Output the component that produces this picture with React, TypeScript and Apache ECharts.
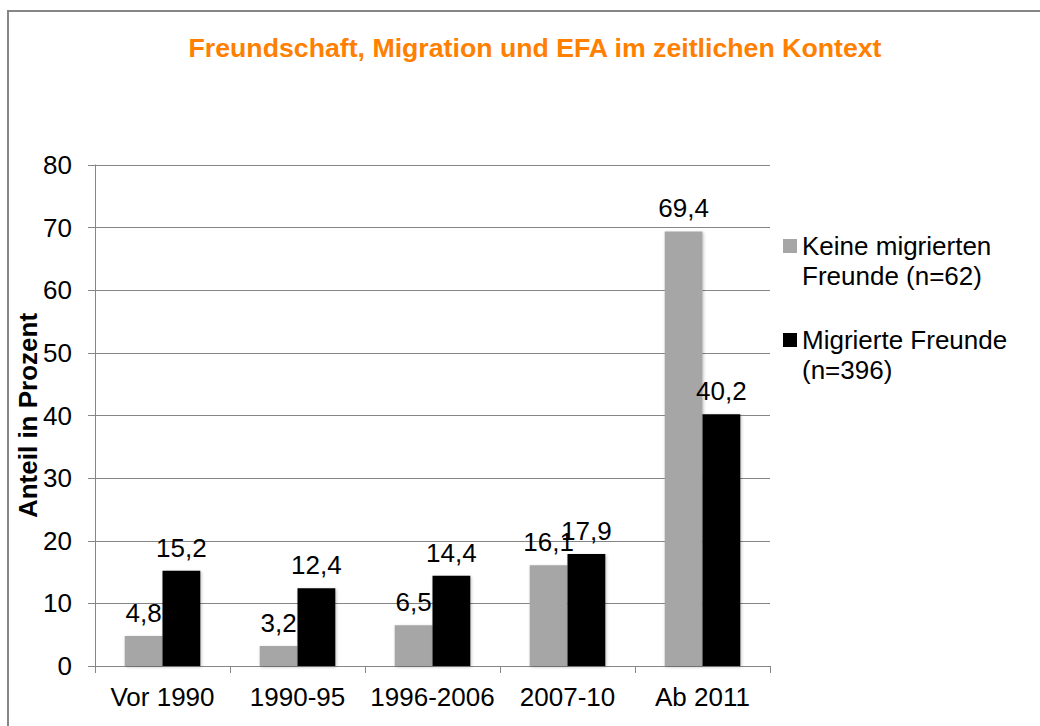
import React, { useEffect, useRef } from "react";
import * as echarts from "echarts";

const categories = ["Vor 1990", "1990-95", "1996-2006", "2007-10", "Ab 2011"];
const keineValues = [4.8, 3.2, 6.5, 16.1, 69.4];
const migrierteValues = [15.2, 12.4, 14.4, 17.9, 40.2];
const seriesNames = ["Keine migrierten\nFreunde (n=62)", "Migrierte Freunde\n(n=396)"];
const titleText = "Freundschaft, Migration und EFA im zeitlichen Kontext";
const yAxisName = "Anteil in Prozent";

const fmt = (v: number) => v.toFixed(1).replace(".", ",");

export default function App() {
  const ref = useRef<HTMLDivElement>(null);
  useEffect(() => {
    const chart = echarts.init(ref.current!, null, { renderer: "svg" });
    const font = "Liberation Sans, Arial, sans-serif";
    const labelStyle = {
      show: true,
      position: "top" as const,
      distance: 10,
      fontSize: 26,
      color: "#000",
      fontFamily: font,
      formatter: (p: any) => fmt(p.value),
    };
    const LH = 30;
    chart.setOption({
      animation: false,
      backgroundColor: "#fff",
      textStyle: { fontFamily: font },
      title: {
        text: titleText,
        left: 530,
        textAlign: "center",
        top: 29,
        textStyle: { color: "#FF8000", fontSize: 26.7, fontWeight: "bold", fontFamily: font },
      },
      graphic: [
        {
          type: "rect",
          shape: { x: 8, y: 11, width: 1100, height: 800 },
          style: { fill: "none", stroke: "#868686", lineWidth: 2 },
          silent: true,
        },
      ],
      legend: {
        orient: "vertical",
        left: 783,
        top: 246 - 1.5 * LH,
        padding: 0,
        itemGap: 94 - 3 * LH,
        itemWidth: 14,
        itemHeight: 14,
        icon: "rect",
        formatter: (name: string) => "\n" + name,
        textStyle: {
          fontSize: 26,
          color: "#000",
          fontFamily: font,
          lineHeight: LH,
        },
        data: seriesNames,
      },
      grid: { left: 95, right: 270, top: 165, bottom: 60 },
      xAxis: {
        type: "category",
        data: categories,
        axisLine: { lineStyle: { color: "#868686", width: 1 } },
        axisTick: { show: true, length: 7, lineStyle: { color: "#868686" } },
        axisLabel: { fontSize: 26, color: "#000", fontFamily: font, margin: 18, interval: 0 },
      },
      yAxis: {
        type: "value",
        min: 0,
        max: 80,
        interval: 10,
        name: yAxisName,
        nameLocation: "middle",
        nameGap: 54,
        nameMoveOverlap: false,
        nameTextStyle: { fontSize: 26, fontWeight: "bold", color: "#000", fontFamily: font },
        axisLine: { show: true, lineStyle: { color: "#868686" } },
        axisTick: { show: true, length: 7, lineStyle: { color: "#868686" } },
        axisLabel: { fontSize: 26, color: "#000", fontFamily: font, margin: 23 },
        splitLine: { lineStyle: { color: "#868686", width: 1 } },
      },
      series: [
        {
          name: seriesNames[0],
          type: "bar",
          data: keineValues,
          barWidth: "28%",
          barGap: "0%",
          itemStyle: { color: "#A6A6A6", shadowColor: "rgba(0,0,0,0.25)", shadowBlur: 3, shadowOffsetX: 1, shadowOffsetY: 1 },
          label: labelStyle,
        },
        {
          name: seriesNames[1],
          type: "bar",
          data: migrierteValues,
          barWidth: "28%",
          barGap: "0%",
          itemStyle: { color: "#000000", shadowColor: "rgba(0,0,0,0.25)", shadowBlur: 3, shadowOffsetX: 1, shadowOffsetY: 1 },
          label: labelStyle,
        },
      ],
    });
    return () => chart.dispose();
  }, []);
  return (
    <div
      ref={ref}
      style={{ position: "absolute", left: 0, top: 0, width: 1040, height: 726 }}
    />
  );
}
